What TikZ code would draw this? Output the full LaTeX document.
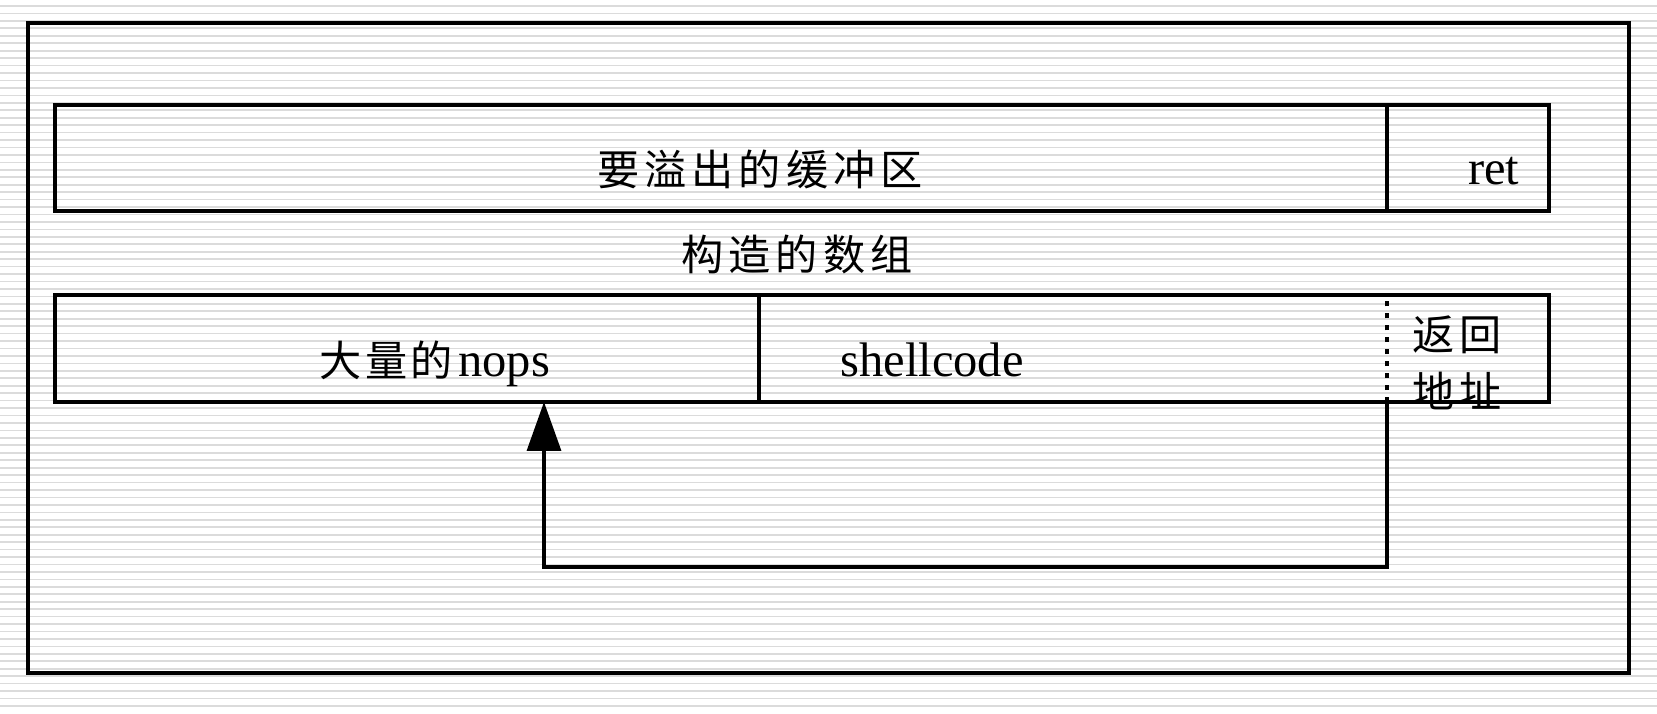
\documentclass[tikz,border=0pt]{standalone}
\usepackage{fontspec}
\setmainfont{Liberation Serif}
\newfontfamily\cjk[LetterSpace=12]{Noto Sans CJK SC}
\usetikzlibrary{positioning,arrows.meta}
\newcommand{\zh}[1]{{\cjk\fontsize{12}{13}\selectfont #1}}
\tikzset{
  bgline/.style={line width=0.48pt,black!14},
  frame/.style={line width=0.95pt},
  cell/.style={line width=0.95pt},
  cutln/.style={line width=0.95pt,dash pattern=on 1.5pt off 1.9pt},
  retlink/.style={line width=0.95pt,-{Triangle[length=4.9mm,width=3.4mm]}},
  zhlbl/.style={font=\cjk\fontsize{12}{16.2}\selectfont,inner sep=0pt,align=center},
  enlbl/.style={font=\fontsize{13.8}{16}\selectfont,inner sep=0pt},
}

\begin{document}
\begin{tikzpicture}
  \useasboundingbox (0,0) rectangle (16.57,7.13);
  % striped background
  \foreach \k in {0,...,94}
    \draw[bgline] (0,{7.07-0.07447*\k}) -- (16.57,{7.07-0.07447*\k});
  \draw[frame] (0.28,0.40) rectangle (16.29,6.90);
  % top: the buffer to overflow
  \draw[cell] (0.55,5.02) rectangle (15.49,6.08);
  \draw[cell] (13.87,5.02) -- (13.87,6.08);
  \node[zhlbl] (buf) at (7.60,5.435) {要溢出的缓冲区};
  \node[enlbl,anchor=base east] (ret) at (15.20,5.28) {ret};
  \node[zhlbl] (arr) at (7.97,4.59) {构造的数组};
  % bottom: the crafted array
  \draw[cell] (0.55,3.11) rectangle (15.49,4.18);
  \draw[cell] (7.59,3.11) -- (7.59,4.18);
  \draw[cutln] (13.87,3.11) -- (13.87,4.18);
  \node[enlbl,anchor=base] (nops) at (4.35,3.36) {\zh{大\hspace{0.03cm}量\hspace{0.03cm}的}\hspace{0.06cm}nops};
  \node[enlbl,anchor=base] (shell) at (9.32,3.36) {shellcode};
  \node[zhlbl] (raddr) at (14.57,3.505) {返\hspace{0.05cm}回\\地\hspace{0.05cm}址};
  % return address points back into the nops
  \coordinate (retfoot) at (13.87,3.11);
  \coordinate (nopsfoot) at (5.44,3.11);
  \draw[retlink] (retfoot) -- ++(0,-1.65) -| (nopsfoot);
\end{tikzpicture}
\end{document}
